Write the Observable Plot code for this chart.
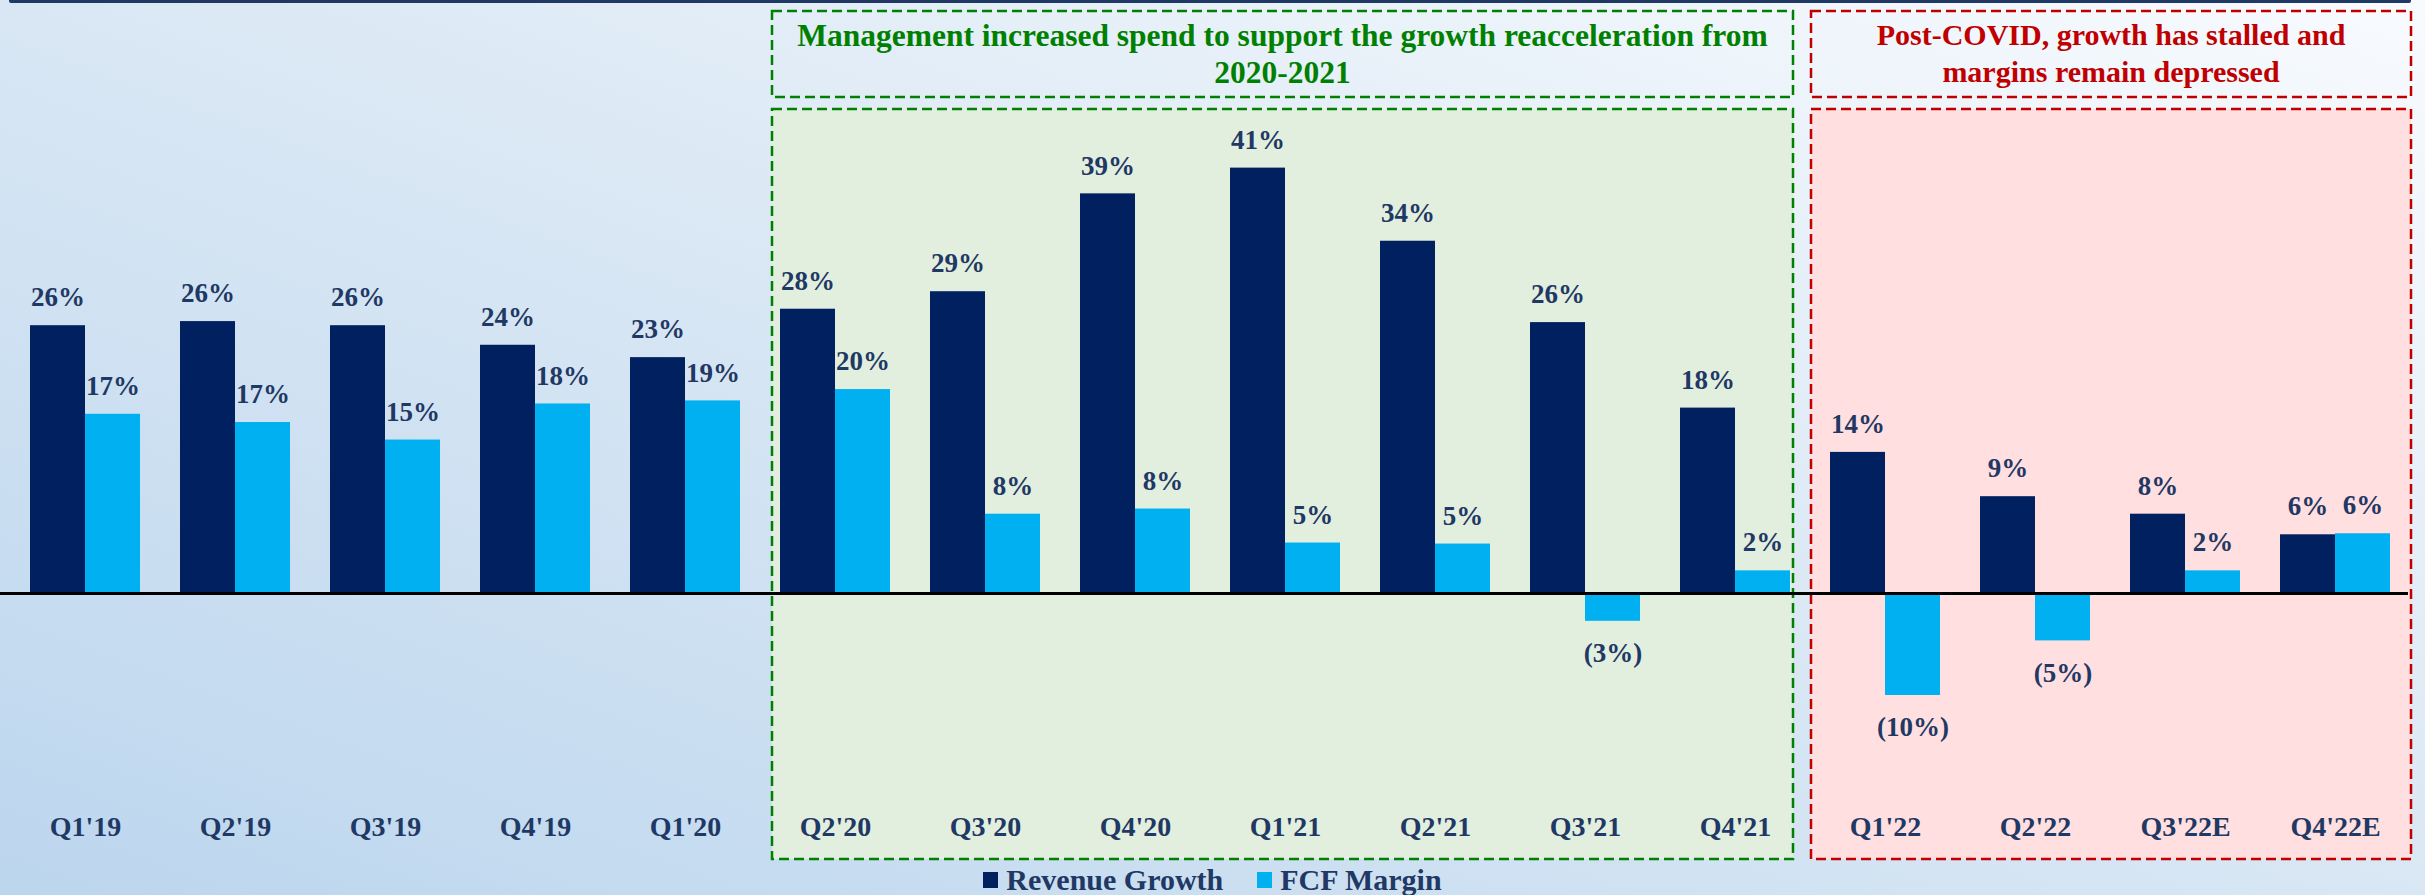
<!DOCTYPE html>
<html>
<head>
<meta charset="utf-8">
<script src="https://cdn.jsdelivr.net/npm/d3@7"></script>
<script src="https://cdn.jsdelivr.net/npm/@observablehq/plot@0.6"></script>
<style>
  html, body { margin: 0; padding: 0; width: 2425px; height: 895px; overflow: hidden; }
  body {
    background: linear-gradient(to top right, #bcd6ee 0%, #d9e7f4 50%, #f8fbfe 100%);
    font-family: "Liberation Serif", serif;
    position: relative;
  }
  #topline { position: absolute; top: 0; left: 9px; width: 2402px; height: 3px; background: #1f3864; border-radius: 0 0 2px 2px; }
  #chart { position: relative; height: 865px; }
  #chart svg { display: block; }
  #legend { height: 30px; display: flex; justify-content: center; align-items: center; gap: 34px;
            font-family: "Liberation Serif", serif; font-weight: bold; font-size: 30px; color: #1f3864; line-height: 30px; }
  #legend .item { display: flex; align-items: center; gap: 8px; }
  #legend .sw { width: 15px; height: 16px; display: inline-block; }
</style>
</head>
<body>
<div id="topline"></div>
<div id="chart"></div>
<div id="legend"></div>
<script>
// ---- Data ----
const quarters = ["Q1'19","Q2'19","Q3'19","Q4'19","Q1'20","Q2'20","Q3'20","Q4'20","Q1'21","Q2'21","Q3'21","Q4'21","Q1'22","Q2'22","Q3'22E","Q4'22E"];
const revenueGrowth = [26.0, 26.4, 26.0, 24.1, 22.9, 27.6, 29.3, 38.8, 41.3, 34.2, 26.3, 18.0, 13.7, 9.4, 7.7, 5.7];
const fcfMargin     = [17.4, 16.6, 14.9, 18.4, 18.7, 19.8, 7.7, 8.2, 4.9, 4.8, -2.7, 2.2, -9.9, -4.6, 2.2, 5.8];
const seriesNames = ["Revenue Growth", "FCF Margin"];
const periodTitles = [
  "Management increased spend to support the growth reacceleration from\n2020-2021",
  "Post-COVID, growth has stalled and\nmargins remain depressed"
];
const periodStart = ["Q2'20", "Q1'22"];
const periodEnd = ["Q4'21", "Q4'22E"];

// ---- Styles ----
const seriesColors = ["#002060", "#00b0f0"];
const periodStroke = ["#008000", "#c00000"];
const periodFill = ["#e2efdf", "#ffdfe0"];
const periodFont = [31.5, 30];
const periodPadL = [8, 19];
const periodPadR = [3, 21];
const navy = "#1f3864";

const W = 2425, H = 865, ML = 30, MR = 35, MT = 78, MB = 66;
const padInner = 0.2667;
const step = (W - ML - MR) / (quarters.length - padInner);
const half = step * (1 - padInner) / 2;

const rows = quarters.flatMap((q, i) => [
  {quarter: q, series: seriesNames[0], value: revenueGrowth[i]},
  {quarter: q, series: seriesNames[1], value: fcfMargin[i]}
]);
const rev = rows.filter(d => d.series === seriesNames[0]);
const fcf = rows.filter(d => d.series === seriesNames[1]);
const fmt = v => v < 0 ? `(${Math.round(-v)}%)` : `${Math.round(v)}%`;

const labelStyle = {fill: navy, fontSize: 27, fontWeight: "bold", text: d => fmt(d.value)};

const chart = Plot.plot({
  width: W, height: H,
  marginLeft: ML, marginRight: MR, marginTop: MT, marginBottom: MB,
  style: {background: "transparent", fontFamily: "Liberation Serif, serif", overflow: "visible"},
  x: {domain: quarters, paddingInner: padInner, paddingOuter: 0, axis: null},
  y: {domain: [-20, 50], axis: null},
  color: {domain: seriesNames, range: seriesColors},
  marks: [
    Plot.barY(rev, {x: "quarter", y: "value", fill: "series", insetRight: half}),
    Plot.barY(fcf, {x: "quarter", y: "value", fill: "series", insetLeft: half}),
    Plot.ruleY([0], {stroke: "#000", strokeWidth: 3, insetLeft: -30, insetRight: -18}),
    Plot.text(rev.filter(d => d.value >= 0), {x: "quarter", y: "value", dx: -half / 2, dy: -28, ...labelStyle}),
    Plot.text(fcf.filter(d => d.value >= 0), {x: "quarter", y: "value", dx: half / 2, dy: -28, ...labelStyle}),
    Plot.text(fcf.filter(d => d.value < 0), {x: "quarter", y: "value", dx: half / 2, dy: 32, ...labelStyle}),
    Plot.text(quarters, {x: d => d, text: d => d, frameAnchor: "bottom", dy: 36, fill: navy, fontSize: 28, fontWeight: "bold"})
  ]
});
document.getElementById("chart").appendChild(chart);

// ---- Period annotation boxes, placed from the x scale ----
const xs = chart.scale("x");
const svg = d3.select(chart);
const back = svg.insert("g", ":first-child");
const front = svg.append("g");
periodTitles.forEach((title, k) => {
  const left = xs.apply(periodStart[k]) - periodPadL[k];
  const right = xs.apply(periodEnd[k]) + xs.bandwidth + periodPadR[k];
  back.append("rect")
    .attr("x", left).attr("y", 109).attr("width", right - left).attr("height", 750)
    .attr("fill", periodFill[k]).attr("stroke", periodStroke[k])
    .attr("stroke-width", 2.5).attr("stroke-dasharray", "10,5");
  back.append("rect")
    .attr("x", left).attr("y", 11).attr("width", right - left).attr("height", 86)
    .attr("fill", "none").attr("stroke", periodStroke[k])
    .attr("stroke-width", 2.5).attr("stroke-dasharray", "10,5");
  const t = front.append("text")
    .attr("text-anchor", "middle")
    .attr("fill", periodStroke[k])
    .attr("font-family", "Liberation Serif, serif")
    .attr("font-weight", "bold")
    .attr("font-size", periodFont[k]);
  title.split("\n").forEach((line, j) => {
    t.append("tspan").attr("x", (left + right) / 2).attr("y", 35 + j * 37).attr("dy", "0.34em").text(line);
  });
});

// ---- Legend ----
const legend = d3.select("#legend");
seriesNames.forEach((name, i) => {
  const item = legend.append("div").attr("class", "item");
  item.append("span").attr("class", "sw").style("background", seriesColors[i]);
  item.append("span").text(name);
});
</script>
</body>
</html>
